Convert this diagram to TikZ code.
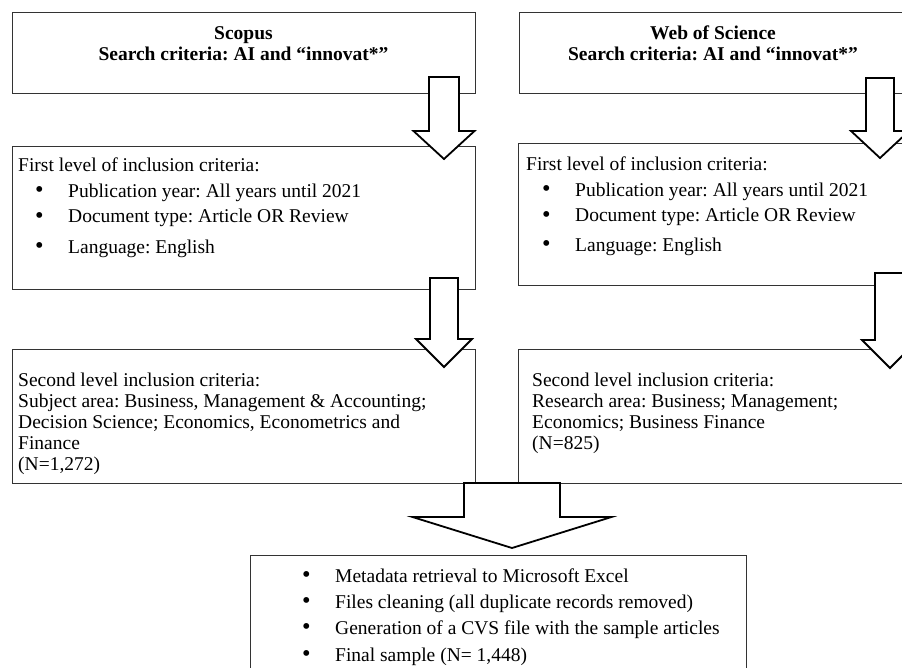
\documentclass[tikz,border=0pt]{standalone}
\usepackage{fontspec}
\setmainfont{Liberation Serif}
\usetikzlibrary{positioning}
\frenchspacing

\newcommand{\bul}{\makebox[33pt][l]{\raisebox{-0.8pt}{\scalebox{1.25}{\textbullet}}}}
% block arrow pointing down: x, top, base of head, tip, half shaft, half head
\newcommand{\blockdown}[6]{%
  \draw [bigarrow] (#1-#5,#2) -- (#1+#5,#2) -- (#1+#5,#3) -- (#1+#6,#3)
    -- (#1,#4) -- (#1-#6,#3) -- (#1-#5,#3) -- cycle;}

\begin{document}
\begin{tikzpicture}[x=1pt, y=-1pt,
    box/.style={draw=black!80, line width=0.8pt, anchor=north west, inner sep=0pt},
    head/.style={anchor=base, inner sep=0pt, align=center, font=\bfseries\fontsize{19.5}{21}\selectfont},
    txt/.style={anchor=base west, inner sep=0pt, align=left, font=\fontsize{19.5}{21}\selectfont},
    lst/.style={txt, font=\fontsize{19.5}{25.5}\selectfont},
    bigarrow/.style={draw=black, line width=1.8pt, fill=white, line join=miter}]

    \useasboundingbox (0,0) rectangle (902,667);
    \clip (0,0) rectangle (902,667);

    % boxes
    \node [box, minimum width=463pt, minimum height=81pt]   (scopus)  at (12,12)   {};
    \node [box, minimum width=390pt, minimum height=81pt]   (wos)     [right=43pt of scopus] {};
    \node [box, minimum width=463pt, minimum height=143pt]  (first1)  at (12,146)  {};
    \node [box, minimum width=390pt, minimum height=142pt]  (first2)  at (518,143) {};
    \node [box, minimum width=463pt, minimum height=134pt]  (second1) at (12,349)  {};
    \node [box, minimum width=390pt, minimum height=134pt]  (second2) at (518,349) {};
    \node [box, minimum width=496pt, minimum height=150pt]  (final)   at (250,555) {};

    % texts (anchored at the baseline of the last line)
    \node [head] (scopustxt) at (243.5,60) {Scopus\\Search criteria: AI and “innovat*”};
    \node [head] (wostxt)    at (713,60)   {Web of Science\\Search criteria: AI and “innovat*”};

    \node [lst] (first1txt) at (18,253) {First level of inclusion criteria:\\
        \hspace*{17pt}\bul Publication year: All years until 2021\\
        \hspace*{17pt}\bul Document type: Article OR Review\\[5pt]
        \hspace*{17pt}\bul Language: English};
    \node [lst] (first2txt) at (526,251) {First level of inclusion criteria:\\
        \hspace*{16pt}\bul Publication year: All years until 2021\\
        \hspace*{16pt}\bul Document type: Article OR Review\\[4pt]
        \hspace*{16pt}\bul Language: English};

    \node [txt] (second1txt) at (18,470) {Second level inclusion criteria:\\
        Subject area: Business, Management \& Accounting;\\
        Decision Science; Economics, Econometrics and\\
        Finance\\
        (N=1,272)};
    \node [txt] (second2txt) at (532,449) {Second level inclusion criteria:\\
        Research area: Business; Management;\\
        Economics; Business Finance\\
        (N=825)};

    \node [lst, font=\fontsize{19.5}{26}\selectfont] (finaltxt) at (302,661) {%
        \bul Metadata retrieval to Microsoft Excel\\
        \bul Files cleaning (all duplicate records removed)\\
        \bul Generation of a CVS file with the sample articles\\[1pt]
        \bul Final sample (N= 1,448)};

    % arrows
    \blockdown{444}{77}{131}{159}{15}{30.5}
    \blockdown{880}{78}{131}{158}{14}{29}
    \blockdown{444}{278}{339}{367}{14}{28}
    \blockdown{890}{273}{340}{368}{15}{28}
    \blockdown{512}{483}{517}{548}{48}{99.5}

\end{tikzpicture}
\end{document}
